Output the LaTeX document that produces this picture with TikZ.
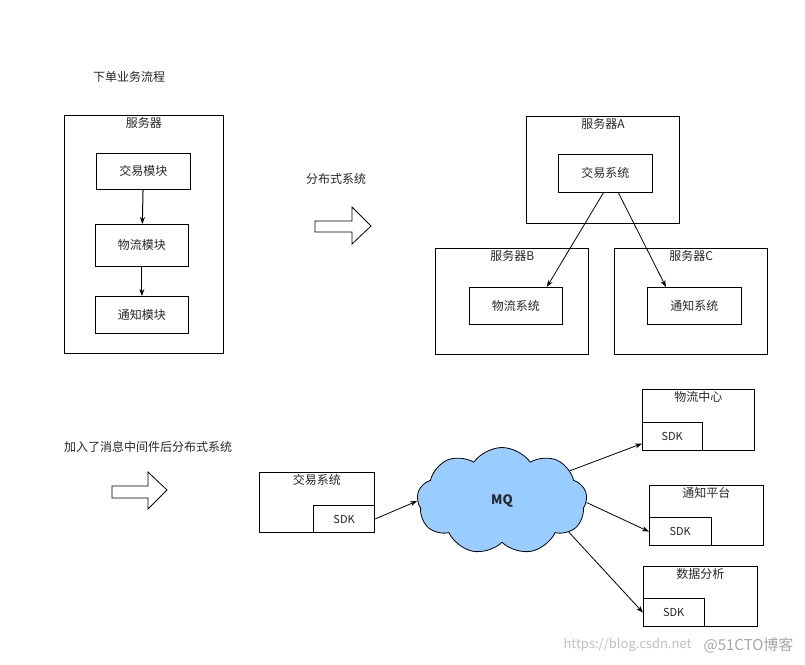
\documentclass[tikz,border=0pt]{standalone}
\usepackage{fontspec}
\setmainfont{Noto Sans CJK SC}
\usepackage{xcolor}
\usetikzlibrary{positioning, shapes.symbols, arrows.meta}

\definecolor{mqblue}{HTML}{99CCFF}

\tikzset{
  box/.style={draw, line width=0.8pt, anchor=north west, inner sep=0pt},
  thickbox/.style={box, line width=1.4pt},
  sdkbox/.style={anchor=south west, inner sep=0pt, font=\fontsize{11}{13}\selectfont},
  boxlabel/.style={below=1pt of #1.north, inner sep=1pt},
  link/.style={->, line width=0.8pt},
  bigarrow/.style={draw, line width=0.8pt, fill=white}
}

\begin{document}
\begin{tikzpicture}[x=1pt, y=-1pt, >={Stealth[length=7pt,width=5pt]},
  font=\fontsize{12}{14}\selectfont, text=black!85]
\useasboundingbox (0,0) rectangle (805,664);

% single server
\node (title1) at (129,77) {下单业务流程};
\node[box, minimum width=159, minimum height=238] (srv) at (64,115) {};
\node[boxlabel=srv] (srvlbl) {服务器};
\node[box, minimum width=94, minimum height=36] (trade) at (96,153) {交易模块};
\node[box, minimum width=93, minimum height=42] (logis) at (95,224) {物流模块};
\node[box, minimum width=93, minimum height=37] (notify) at (95,296) {通知模块};
\draw[link, line width=1pt] (trade) -- (logis);
\draw[link, line width=1pt] (logis) -- (notify);

% step to distributed
\node (dist) at (336,179) {分布式系统};
\draw[bigarrow] (315,221) -- (352,221) -- (352,207) -- (371,226) -- (352,244) -- (352,232) -- (315,232) -- cycle;

% distributed servers
\node[box, minimum width=153, minimum height=107] (srvA) at (526,116) {};
\node[boxlabel=srvA] (srvAlbl) {服务器A};
\node[box, minimum width=94, minimum height=38] (tradesys) at (558,154) {交易系统};
\node[thickbox, minimum width=153, minimum height=106] (srvB) at (435,248) {};
\node[boxlabel=srvB] (srvBlbl) {服务器B};
\node[box, minimum width=93, minimum height=37] (logsys) at (469,287) {物流系统};
\node[thickbox, minimum width=153, minimum height=106] (srvC) at (614,248) {};
\node[boxlabel=srvC] (srvClbl) {服务器C};
\node[box, minimum width=94, minimum height=37] (notsys) at (647,287) {通知系统};
\draw[link] ([xshift=-2pt]tradesys.south) -- ([xshift=-16pt]logsys.north east);
\draw[link] ([xshift=13pt]tradesys.south) -- ([xshift=19pt]notsys.north west);

% step to message queue
\node (title2) at (148,447) {加入了消息中间件后分布式系统};
\draw[bigarrow] (112,486) -- (148,486) -- (148,472) -- (167,490) -- (148,509) -- (148,498) -- (112,498) -- cycle;

% message queue
\node[box, minimum width=115, minimum height=60] (tradeapp) at (259,472) {};
\node[boxlabel=tradeapp] (tradeapplbl) {交易系统};
\node[sdkbox, anchor=south east, minimum width=61, minimum height=27] (sdk1) at (tradeapp.south east) {SDK};
\draw[line width=1.4pt] (sdk1.south west) |- (sdk1.north east);

\node[cloud, cloud puffs=9, cloud puff arc=110, cloud ignores aspect, draw, line width=0.8pt, fill=mqblue,
  minimum width=170, minimum height=107, inner sep=0pt] (mq) at (502,501)
  {\fontsize{13}{15}\selectfont\bfseries MQ};
\draw[link] (sdk1.east) -- (mq.west);

\node[box, minimum width=112, minimum height=61] (logctr) at (642,389) {};
\node[boxlabel=logctr] (logctrlbl) {物流中心};
\node[sdkbox, minimum width=60, minimum height=28] (sdk2) at (logctr.south west) {SDK};
\draw[line width=1.4pt] (sdk2.north west) -| (sdk2.south east);

\node[box, minimum width=114, minimum height=60] (notplat) at (649,485) {};
\node[boxlabel=notplat] (notplatlbl) {通知平台};
\node[sdkbox, minimum width=62, minimum height=28] (sdk3) at (notplat.south west) {SDK};
\draw[line width=1.4pt] (sdk3.north west) -| (sdk3.south east);

\node[box, minimum width=114, minimum height=60] (datana) at (643,566) {};
\node[boxlabel=datana] (datanalbl) {数据分析};
\node[sdkbox, minimum width=61, minimum height=28] (sdk4) at (datana.south west) {SDK};
\draw[line width=1.4pt] (sdk4.north west) -| (sdk4.south east);

\draw[link] (mq.24) -- ([yshift=-7pt]sdk2.west);
\draw[link] (mq.-1) -- (sdk3.west);
\draw[link] (mq.-25) -- (sdk4.west);

% watermark
\node[anchor=west, text=black!25, font=\fontsize{13}{15}\selectfont] (wm1) at (560,645) {https://blog.csdn.net};
\node[anchor=east, text=black!35, font=\fontsize{15}{17}\selectfont] (wm2) at (797,645) {@51CTO博客};
\end{tikzpicture}
\end{document}
